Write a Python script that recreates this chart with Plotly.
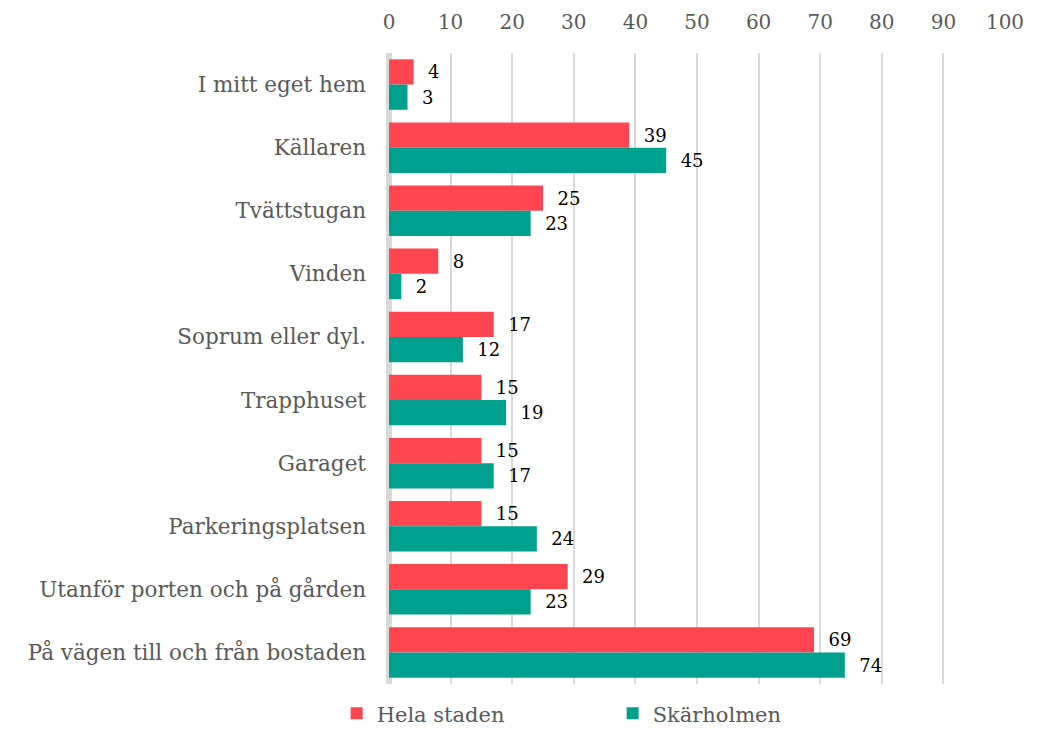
import plotly.graph_objects as go

categories = ["I mitt eget hem", "Källaren", "Tvättstugan", "Vinden", "Soprum eller dyl.",
              "Trapphuset", "Garaget", "Parkeringsplatsen", "Utanför porten och på gården",
              "På vägen till och från bostaden"]
hela_staden = [4, 39, 25, 8, 17, 15, 15, 15, 29, 69]
skarholmen = [3, 45, 23, 2, 12, 19, 17, 24, 23, 74]
tick_vals = [0, 10, 20, 30, 40, 50, 60, 70, 80, 90, 100]

FONT = "DejaVu Serif"

fig = go.Figure()
fig.add_trace(go.Bar(y=categories, x=hela_staden, orientation="h", name="Hela staden",
                     marker=dict(color="#FF4650", line=dict(width=0)),
                     text=hela_staden, texttemplate="  %{x}", textposition="outside",
                     textfont=dict(family=FONT, size=18, color="#000000"), cliponaxis=False))
fig.add_trace(go.Bar(y=categories, x=skarholmen, orientation="h", name="Skärholmen",
                     marker=dict(color="#00A08E", line=dict(width=0)),
                     text=skarholmen, texttemplate="  %{x}", textposition="outside",
                     textfont=dict(family=FONT, size=18, color="#000000"), cliponaxis=False))

fig.update_layout(
    width=1038, height=722,
    margin=dict(l=381, r=41, t=45, b=46, autoexpand=False),
    paper_bgcolor="white", plot_bgcolor="white",
    barmode="group", bargap=0.2, bargroupgap=0,
    font=dict(family=FONT, color="#595959"),
    xaxis=dict(side="top", range=[0, 100], tickvals=tick_vals, automargin=False,
               showgrid=True, gridcolor="#d9d9d9", gridwidth=1.5,
               zeroline=True, zerolinecolor="#d9d9d9", zerolinewidth=6,
               tickfont=dict(family=FONT, size=20, color="#595959"),
               ticklabelstandoff=19, showline=False, ticks=""),
    yaxis=dict(autorange="reversed", showgrid=False, ticks="", ticklen=0, automargin=False,
               ticklabelstandoff=22,
               tickfont=dict(family=FONT, size=21.5, color="#595959")),
    legend=dict(orientation="h", x=-0.085, xanchor="left", y=-0.047, yanchor="middle",
                entrywidth=231, font=dict(family=FONT, size=21, color="#595959")),
)

fig.write_html("out.html")
